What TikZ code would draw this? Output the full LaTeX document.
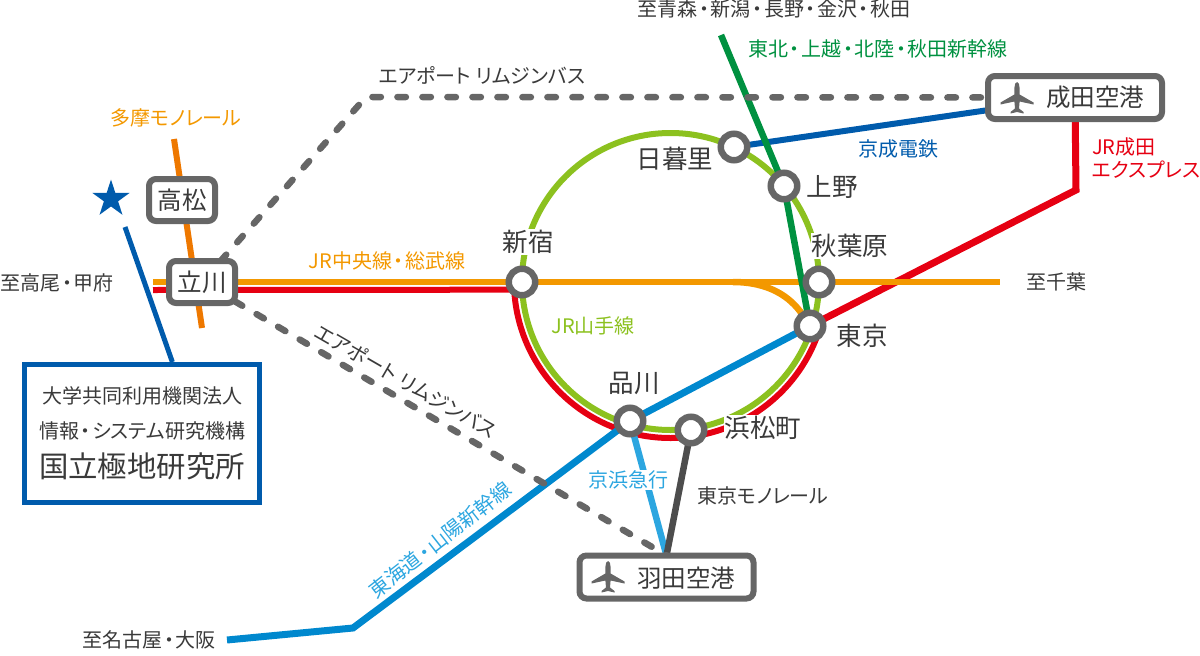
\documentclass[tikz,border=0pt]{standalone}
\usepackage{fontspec}
\setmainfont[RawFeature=+palt]{Noto Sans CJK JP}
\usepackage{xcolor}
\usetikzlibrary{calc}
\usetikzlibrary{backgrounds}
\usetikzlibrary{shapes.geometric}
\definecolor{stgray}{HTML}{666666}
\definecolor{txtgray}{HTML}{3A3A3A}
\definecolor{yamanote}{HTML}{8CC11F}
\definecolor{jrred}{HTML}{E60012}
\definecolor{chuo}{HTML}{F39800}
\definecolor{tama}{HTML}{EE7800}
\definecolor{keisei}{HTML}{005BAC}
\definecolor{tohoku}{HTML}{009140}
\definecolor{tokaido}{HTML}{0088CE}
\definecolor{keikyu}{HTML}{2CA6E0}
\definecolor{monor}{HTML}{4D4D4D}
\newcommand{\fsmall}{\fontsize{20}{23}\selectfont}
\newcommand{\fstn}{\fontsize{24.5}{28}\selectfont}
\newcommand{\dt}{\kern1.6pt・\kern1.6pt}
\tikzset{plane/.pic={
  \fill[stgray] (0,16) .. controls (1.6,16) and (2.6,13) .. (2.6,10) -- (2.6,3.5) -- (16.5,-4.5) -- (16.5,-6.5) -- (2.6,-3.5)
    -- (2,-10.5) -- (6.5,-14) -- (6.5,-15.5) -- (0,-14) -- (-6.5,-15.5) -- (-6.5,-14) -- (-2,-10.5) -- (-2.6,-3.5)
    -- (-16.5,-6.5) -- (-16.5,-4.5) -- (-2.6,3.5) -- (-2.6,10) .. controls (-2.6,13) and (-1.6,16) .. (0,16) -- cycle;
}}

\begin{document}
\begin{tikzpicture}[x=1pt,y=1pt]
\tikzstyle{stn}=[draw=stgray,shape=circle,line width=6.5pt,fill=white,minimum size=26.5pt,inner sep=0pt,outer sep=0pt]
\tikzstyle{box}=[draw=stgray,shape=rectangle,line width=6pt,fill=white,rounded corners=7pt,minimum width=66pt,minimum height=42pt,inner sep=0pt,outer sep=0pt,text=txtgray,font=\fstn]
\tikzstyle{apt}=[box,minimum width=174pt,minimum height=43pt]
\tikzstyle{stl}=[text=txtgray,font=\fontsize{25.5}{28}\selectfont,fill=white,inner sep=1pt]
\tikzstyle{lbl}=[font=\fsmall,inner sep=0pt]
\tikzstyle{track}=[line width=6.5pt]
\tikzstyle{bus}=[line width=6.5pt,draw=stgray,dash pattern=on 8.5pt off 16.5pt,line cap=round,rounded corners=4pt]
\useasboundingbox (0,0) rectangle (1200,-656);

\coordinate(ringc) at (670.5,-281.5);
\coordinate(chuow) at (153,-282);
\coordinate(chuoe) at (1000,-282);
\coordinate(redw) at (153,-290);
\coordinate(redrim) at ($(ringc)+(183:156.5)$);
\coordinate(branch) at (733,-282);
\coordinate(busbend) at (366,-97);
\coordinate(tamat) at (174,-139);
\coordinate(tamab) at (202,-328);
\coordinate(tohokut) at (721,-35);
\coordinate(nexbend) at (1076,-190);
\coordinate(shink1) at (227,-640);
\coordinate(shink2) at (353,-628);
\coordinate(stemt) at (125,-227);
%
\node[stn](shinjuku) at (522,-282){};
\node[stn](nippori) at (734,-147){};
\node[stn](ueno) at (784,-186){};
\node[stn](akiba) at (819,-282){};
\node[stn](tokyo) at (810,-326){};
\node[stn](shinagawa) at (630,-421){};
\node[stn](hamamatsu) at (691,-430){};
%
\node[box](takamatsu) at (182,-200){高松};
\node[box](tachikawa) at (202,-282){立川};
\node[apt](narita) at (1075,-97.5){};
\node[apt](haneda) at (666.5,-577){};
\pic at (1017,-98) {plane};
\pic at (608,-577) {plane};
\node[text=txtgray,font=\fstn,inner sep=0pt](naritat) at (1095,-97){成田空港};
\node[text=txtgray,font=\fstn,inner sep=0pt](hanedat) at (686,-578){羽田空港};
%
\node[star,star points=5,star point ratio=2.618,fill=keisei,inner sep=0pt,minimum size=39pt](mark) at (111,-199){};
\node[draw=keisei,line width=5pt,fill=white,minimum width=235pt,minimum height=138pt,inner sep=0pt,align=center,text=txtgray](nipr) at (142,-433.5){%
{\fsmall 大学共同利用機関法人}\\[15pt]{\fsmall 情報\dt システム研究機構}\\[12pt]{\fontsize{29.4}{33}\selectfont 国立極地研究所}};
%
\begin{pgfonlayer}{background}
\draw[track,line width=6pt,draw=yamanote] (ringc) circle (148.5);
\draw[track,line width=6pt,draw=jrred] (redw) -- (redrim) arc[start angle=183,end angle=340,radius=156.5];
\draw[track,line width=7pt,draw=jrred] (tokyo) -- (nexbend) -- (narita);
\draw[track,line width=6pt,draw=tama] (tamat) -- (tamab);
\draw[track,draw=chuo] (chuow) -- (chuoe);
\draw[track,draw=chuo] (branch) .. controls (768,-282) and (790,-296) .. (tokyo);
\draw[track,line width=6pt,draw=keisei] (nippori) -- (narita);
\draw[track,draw=keikyu] (shinagawa) -- (haneda.north);
\draw[track,draw=monor] (hamamatsu) -- (haneda.north);
\draw[track,line width=7pt,draw=tokaido] (shink1) -- (shink2) -- (shinagawa) -- (tokyo);
\draw[track,draw=tohoku] (tohokut) -- (ueno) -- (tokyo);
\draw[track,draw=keisei,line width=5pt] (stemt) -- (nipr.67);
\draw[bus] (tachikawa) -- (busbend) -- (narita);
\draw[bus] (tachikawa) -- (haneda.north);
\end{pgfonlayer}
%
\node[stl](lshinjuku) at (528,-242){新宿};
\node[stl](lnippori) at (675,-159){日暮里};
\node[stl](lueno) at (832,-187){上野};
\node[stl](lakiba) at (850,-246){秋葉原};
\node[stl](ltokyo) at (862,-336){東京};
\node[stl](lshinagawa) at (634,-383){品川};
\node[stl](lhamamatsu) at (763,-428){浜松町};
%
\node[lbl,text=txtgray](aomori) at (774,-9){至青森\dt 新潟\dt 長野\dt 金沢\dt 秋田};
\node[lbl,text=tohoku](tohokul) at (878,-49){東北\dt 上越\dt 北陸\dt 秋田新幹線};
\node[lbl,text=txtgray](bus1) at (482,-75){エアポート リムジンバス};
\node[lbl,text=chuo](taml) at (176,-118){多摩モノレール};
\node[lbl,text=txtgray](takao) at (57,-283){至高尾\dt 甲府};
\node[lbl,text=chuo](chuol) at (387,-261){JR中央線\dt 総武線};
\node[lbl,text=txtgray](chiba) at (1056,-282){至千葉};
\node[lbl,text=keisei](keiseil) at (898,-149){京成電鉄};
\node[lbl,text=jrred,align=left,anchor=west](nexl) at (1092,-158){JR成田\\エクスプレス};
\node[lbl,text=yamanote](yamal) at (593,-326){JR山手線};
\node[lbl,text=txtgray,rotate=-30](bus2) at (406,-381){エアポート リムジンバス};
\node[lbl,text=keikyu,rotate=38](tokl) at (440,-540){東海道\dt 山陽新幹線};
\node[lbl,text=keikyu,fill=white,inner sep=1pt](keikyul) at (628,-480){京浜急行};
\node[lbl,text=txtgray](monol) at (763,-496){東京モノレール};
\node[lbl,text=txtgray](nagoya) at (149,-640){至名古屋\dt 大阪};
\end{tikzpicture}
\end{document}
